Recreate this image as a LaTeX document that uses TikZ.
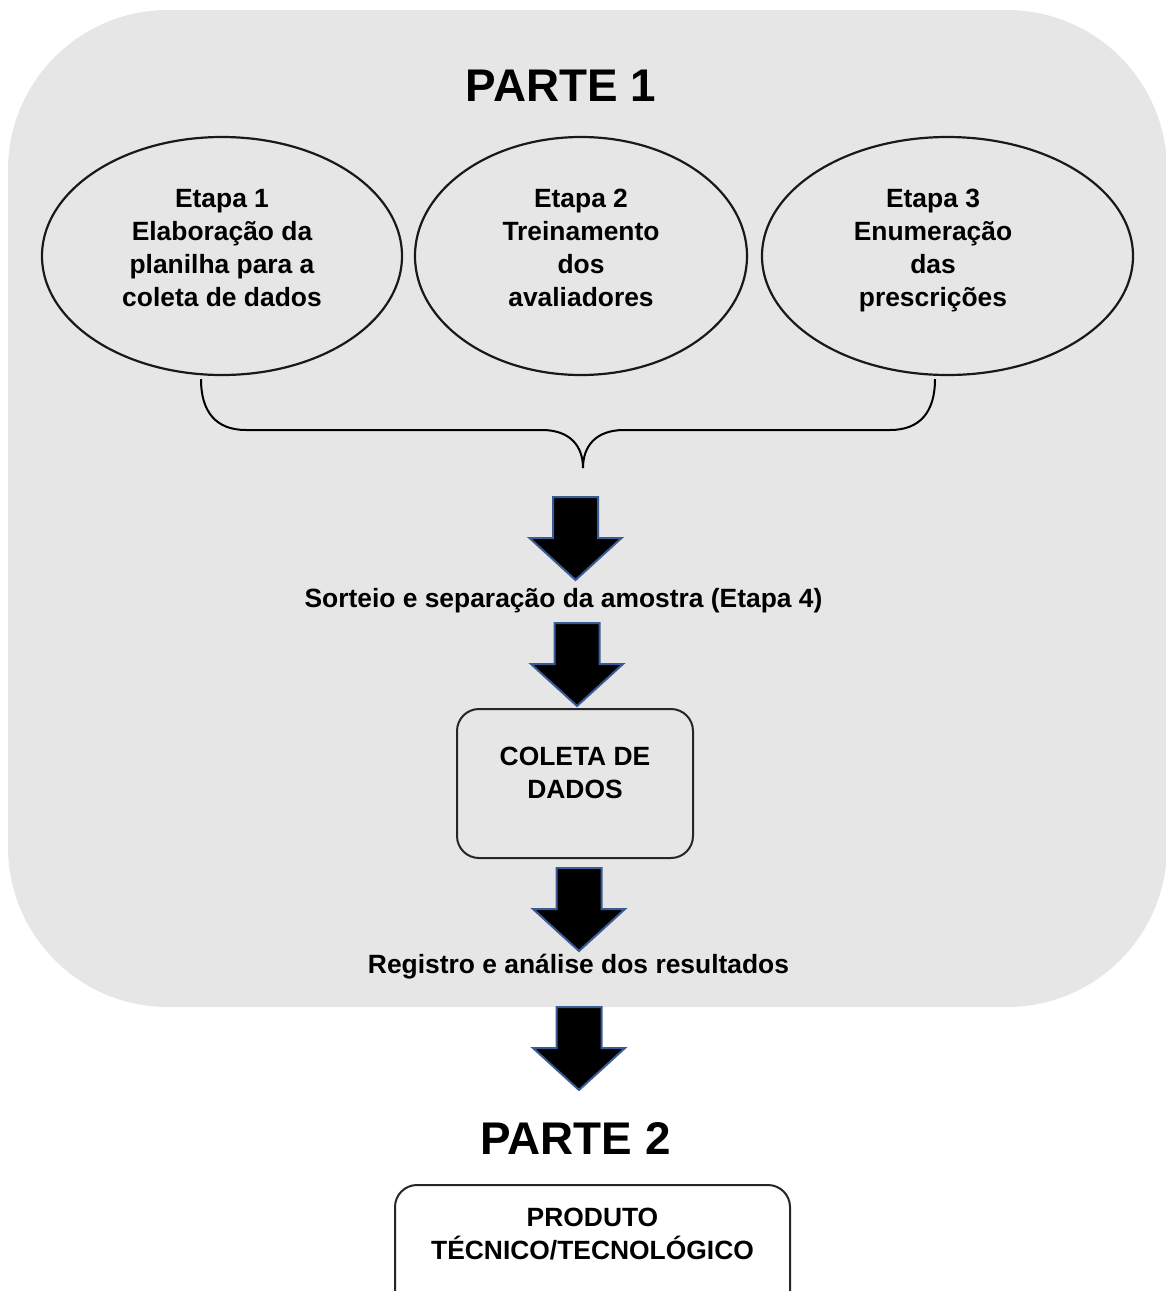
\documentclass[tikz,border=0pt]{standalone}
\usepackage{fontspec}
\setmainfont{Liberation Sans}
\usetikzlibrary{shapes.geometric}
\definecolor{bggray}{RGB}{230,230,230}
\definecolor{arrowblue}{RGB}{58,92,150}
\begin{document}
\begin{tikzpicture}[x=0.5pt,y=-0.5pt,
  txt/.style={font=\bfseries\fontsize{13.2pt}{16.6pt}\selectfont, align=center, inner sep=0pt},
  big/.style={font=\bfseries\fontsize{22.9pt}{27pt}\selectfont, inner sep=0pt},
  oval/.style={ellipse, draw=black!90, line width=1.1pt, inner sep=0pt},
  rbox/.style={draw=black!85, line width=1pt, rounded corners=11pt, inner sep=0pt},
  bracepath/.style={draw=black, line width=1pt},
  downarrow/.pic={\filldraw[fill=black, draw=arrowblue, line width=1pt, line join=miter]
     (-22.5,0) -- (22.5,0) -- (22.5,41) -- (46,41) -- (0,83) -- (-46,41) -- (-22.5,41) -- cycle;}
]
\useasboundingbox (0,0) rectangle (1166,1291);
\fill[bggray, rounded corners=80pt] (8,10) rectangle (1167,1007);

\node[big, anchor=base] (p1) at (561,101) {PARTE 1};

\node[oval, minimum width=180pt, minimum height=119pt] (e1) at (222,256) {};
\node[oval, minimum width=166pt, minimum height=119pt] (e2) at (581,256) {};
\node[oval, minimum width=185.5pt, minimum height=119pt] (e3) at (947.5,256) {};
\node[txt, anchor=north] (t1) at (222,188.5) {Etapa 1\\Elaboração da\\planilha para a\\coleta de dados};
\node[txt, anchor=north] (t2) at (581,188.5) {Etapa 2\\Treinamento\\dos\\avaliadores};
\node[txt, anchor=north] (t3) at (933,188.5) {Etapa 3\\Enumeração\\das\\prescrições};

\coordinate (bl) at (201,379);
\coordinate (br) at (935,379);
\coordinate (bt) at (583,468);
\draw[bracepath] (bl) .. controls (201,412) and (216,430) .. (246,430) -- (542,430) .. controls (570,430) and (583,446) .. (bt);
\draw[bracepath] (br) .. controls (935,412) and (920,430) .. (890,430) -- (624,430) .. controls (596,430) and (583,446) .. (bt);

\pic at (575.5,497) {downarrow};
\node[txt, anchor=base] (s4) at (563.5,607.5) {Sorteio e separação da amostra (Etapa 4)};
\pic at (577,623) {downarrow};

\node[rbox, minimum width=118pt, minimum height=74.5pt] (coleta) at (575,783.5) {};
\node[txt, anchor=north] (ct) at (575,746.5) {COLETA DE\\DADOS};

\pic at (579,868) {downarrow};
\node[txt, anchor=base] (reg) at (578.5,973.5) {Registro e análise dos resultados};
\pic at (579,1007) {downarrow};

\node[big, anchor=base] (p2) at (575.5,1154) {PARTE 2};
\node[rbox, minimum width=197.5pt, minimum height=70pt, anchor=north, fill=white] (prod) at (592.5,1184) {};
\node[txt, anchor=north] (pt) at (592.5,1207.5) {PRODUTO\\TÉCNICO/TECNOLÓGICO};
\end{tikzpicture}
\end{document}
